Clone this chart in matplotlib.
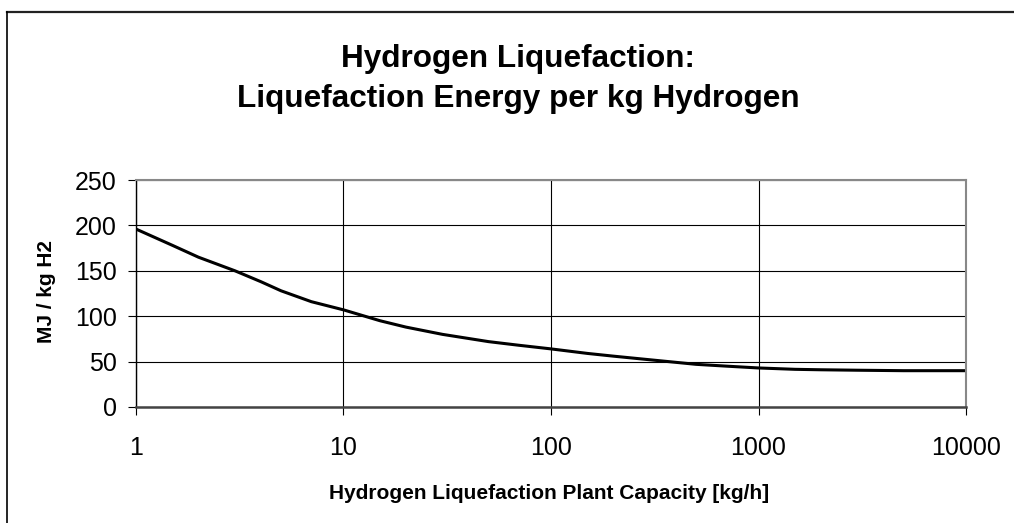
import matplotlib
matplotlib.use("Agg")
import matplotlib.pyplot as plt
from matplotlib.lines import Line2D
from matplotlib.ticker import FixedLocator, FixedFormatter, NullLocator

plt.rcParams.update({
    "font.family": ["Liberation Sans", "DejaVu Sans"],
})

# Plant capacity [kg/h] and liquefaction energy [MJ/kg H2]
capacity = [1, 1.5, 2, 3, 4, 5, 7, 10, 15, 20, 30, 50, 70, 100, 150, 200, 300,
            500, 700, 1000, 1500, 2000, 3000, 5000, 10000]
energy = [196, 178, 165, 150, 138, 128, 116, 107, 95, 88, 80, 72, 68, 64, 59,
          56, 52, 47, 45, 43, 41.5, 41, 40.5, 40, 40]

x_ticks = [1, 10, 100, 1000, 10000]
x_labels = ["1", "10", "100", "1000", "10000"]
y_ticks = [0, 50, 100, 150, 200, 250]

fig = plt.figure(figsize=(10.14, 5.23), dpi=100)
ax = fig.add_axes([0.1341, 0.2218, 0.8186, 0.434])

ax.plot(capacity, energy, color="black", linewidth=2.2, solid_joinstyle="round")

ax.set_xscale("log")
ax.set_xlim(1, 10000)
ax.set_ylim(0, 250)
ax.xaxis.set_major_locator(FixedLocator(x_ticks))
ax.xaxis.set_major_formatter(FixedFormatter(x_labels))
ax.xaxis.set_minor_locator(NullLocator())
ax.set_yticks(y_ticks)

ax.grid(True, color="black", linewidth=0.8)
ax.set_axisbelow(True)

for side in ("top", "right"):
    ax.spines[side].set_color("#888888")
    ax.spines[side].set_linewidth(1.5)
ax.spines["left"].set_color("black")
ax.spines["bottom"].set_color("#444444")
ax.spines["left"].set_linewidth(1.0)
ax.spines["bottom"].set_linewidth(1.8)

ax.tick_params(axis="both", direction="out", length=6, width=0.8,
               labelsize=18, color="black")
ax.tick_params(axis="x", pad=15)
ax.tick_params(axis="y", pad=8)

fig.text(46.5 / 1014, 1 - 291.5 / 523, "MJ / kg H2", rotation=90,
         ha="center", va="center", fontsize=15, fontweight="bold")
fig.text(549.5 / 1014, 1 - 493.5 / 523,
         "Hydrogen Liquefaction Plant Capacity [kg/h]",
         ha="center", va="center", fontsize=15, fontweight="bold")

fig.text(0.511, 1 - 79 / 523,
         "Hydrogen Liquefaction:\nLiquefaction Energy per kg Hydrogen",
         ha="center", va="center", fontsize=22.7, fontweight="bold",
         linespacing=1.42)

# outer chart frame (top and left edges visible)
fig.add_artist(Line2D([0.007, 1.0], [0.978, 0.978], color="#222222",
                      linewidth=1.6, transform=fig.transFigure))
fig.add_artist(Line2D([0.007, 0.007], [0.0, 0.978], color="black",
                      linewidth=1.2, transform=fig.transFigure))

fig.savefig("out.png", dpi=100)
